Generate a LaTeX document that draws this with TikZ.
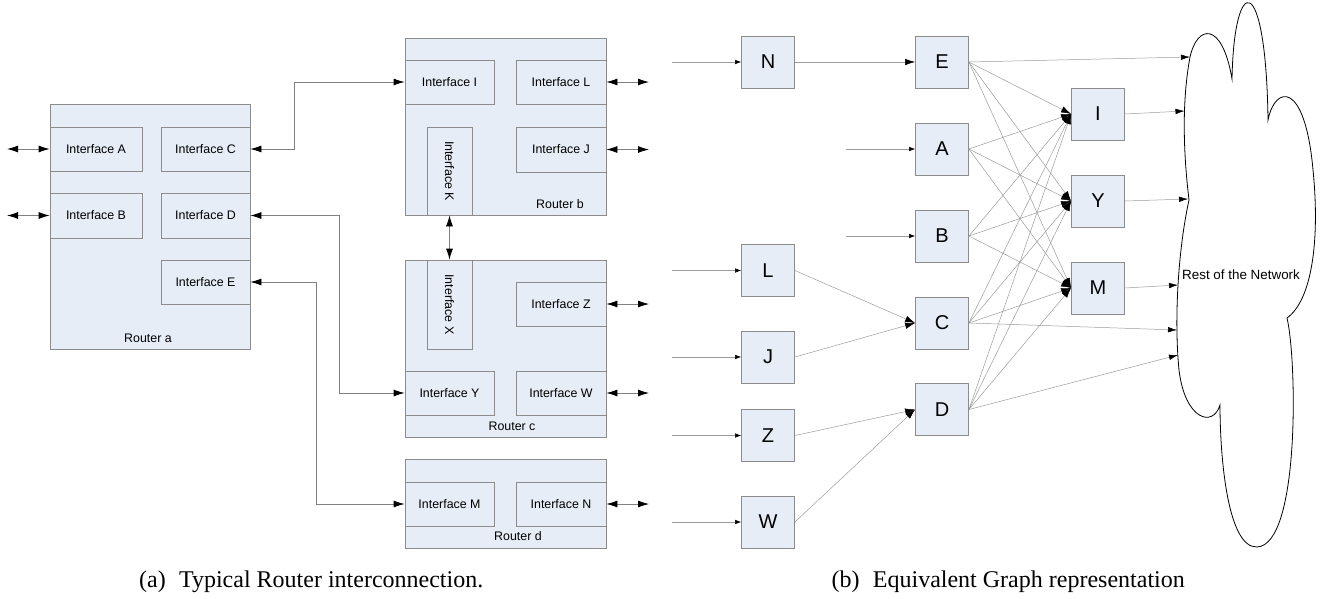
\documentclass[tikz,border=0pt]{standalone}
\usepackage{fontspec}
\setmainfont{Liberation Serif}
\newfontfamily\diagfont{Liberation Sans}
\usetikzlibrary{arrows.meta}

\definecolor{boxfill}{RGB}{231,237,247}
\definecolor{boxline}{RGB}{140,140,140}
\definecolor{wirecol}{RGB}{128,128,128}
\definecolor{edgecol}{RGB}{155,155,155}

\tikzset{
  router/.style={draw=boxline, fill=boxfill, line width=0.8pt, inner sep=0pt, rectangle},
  iface/.style={router, font=\diagfont\fontsize{12.4}{14}\selectfont},
  rlabel/.style={inner sep=0pt, font=\diagfont\fontsize{12.4}{14}\selectfont},
  gnode/.style={router, minimum width=53pt, minimum height=52pt,
                font=\diagfont\fontsize{20}{24}\selectfont},
  wire/.style={draw=wirecol, line width=0.8pt},
  biwire/.style={wire, {Latex[length=11pt,width=7pt,color=black]}-{Latex[length=11pt,width=7pt,color=black]}},
  gedge/.style={draw=edgecol, line width=0.5pt},
  inarrow/.style={gedge, -{Latex[length=6pt,width=4.5pt,color=black]}},
  midarrow/.style={gedge, -{Latex[length=10pt,width=6.5pt,color=black]}},
  cloudarrow/.style={gedge, -{Latex[length=9pt,width=5.5pt,color=black]}},
  caption/.style={inner sep=0pt, font=\fontsize{24}{28}\selectfont}
}

\begin{document}
\begin{tikzpicture}[x=1pt, y=-1pt]
\useasboundingbox (0,0) rectangle (1330,598);

% ---------------- routers ----------------
\node[router, minimum width=200pt, minimum height=245pt] (ra) at (150,226.5) {};
\node[router, minimum width=201pt, minimum height=177pt] (rb) at (505.5,126.5) {};
\node[router, minimum width=201pt, minimum height=177pt] (rc) at (505.5,348.5) {};
\node[router, minimum width=201pt, minimum height=89pt] (rd) at (505.5,503.5) {};

% interfaces of router a
\node[iface, minimum width=92pt, minimum height=44pt] (ifA) at (96,149) {Interface A};
\node[iface, minimum width=89pt, minimum height=44pt] (ifC) at (205.5,149) {Interface C};
\node[iface, minimum width=92pt, minimum height=45pt] (ifB) at (96,215.5) {Interface B};
\node[iface, minimum width=89pt, minimum height=45pt] (ifD) at (205.5,215.5) {Interface D};
\node[iface, minimum width=89pt, minimum height=44pt] (ifE) at (205.5,282) {Interface E};
\node[rlabel] (la) at (148,338) {Router a};

% interfaces of router b
\node[iface, minimum width=89pt, minimum height=44pt] (ifI) at (449.5,82) {Interface I};
\node[iface, minimum width=90pt, minimum height=44pt] (ifL) at (561,82) {Interface L};
\node[iface, minimum width=90pt, minimum height=45pt] (ifJ) at (561,149.5) {Interface J};
\node[iface, rotate=-90, minimum width=88pt, minimum height=45pt] (ifK) at (449.5,171) {Interface K};
\node[rlabel] (lb) at (560,204) {Router b};

% interfaces of router c
\node[iface, rotate=-90, minimum width=89pt, minimum height=45pt] (ifX) at (449.5,304.5) {Interface X};
\node[iface, minimum width=90pt, minimum height=44pt] (ifZ) at (561,304) {Interface Z};
\node[iface, minimum width=89pt, minimum height=44pt] (ifY) at (449.5,393) {Interface Y};
\node[iface, minimum width=90pt, minimum height=44pt] (ifW) at (561,393) {Interface W};
\node[rlabel] (lc) at (512,426) {Router c};

% interfaces of router d
\node[iface, minimum width=89pt, minimum height=44pt] (ifM) at (449.5,504) {Interface M};
\node[iface, minimum width=90pt, minimum height=44pt] (ifN) at (561,504) {Interface N};
\node[rlabel] (ld) at (518,536) {Router d};

% outside links
\coordinate (oA) at (7,149);
\coordinate (oB) at (7,215.5);
\coordinate (oL) at (649,82);
\coordinate (oJ) at (649,149.5);
\coordinate (oZ) at (649,304);
\coordinate (oW) at (649,393);
\coordinate (oN) at (649,504);
\draw[biwire] (oA) -- (ifA.west);
\draw[biwire] (oB) -- (ifB.west);
\draw[biwire] (ifL.east) -- (oL);
\draw[biwire] (ifJ.east) -- (oJ);
\draw[biwire] (ifZ.east) -- (oZ);
\draw[biwire] (ifW.east) -- (oW);
\draw[biwire] (ifN.east) -- (oN);

% links between routers
\draw[biwire] (ifC.east) -- ++(44,0) |- (ifI.west);
\draw[biwire] (ifD.east) -- ++(89,0) |- (ifY.west);
\draw[biwire] (ifE.east) -- ++(66,0) |- (ifM.west);
\draw[biwire] (ifK.east) -- (ifX.west);

% ---------------- graph ----------------
\node[gnode] (N) at (768,62) {N};
\node[gnode] (L) at (768,270.5) {L};
\node[gnode] (J) at (768,357) {J};
\node[gnode] (Z) at (768,435.5) {Z};
\node[gnode] (W) at (768,522) {W};

\node[gnode] (E) at (942,62) {E};
\node[gnode] (A) at (942,149) {A};
\node[gnode] (B) at (942,236) {B};
\node[gnode] (C) at (942,323) {C};
\node[gnode] (D) at (942,409.5) {D};

\node[gnode] (I) at (1098,114) {I};
\node[gnode] (Y) at (1098,201) {Y};
\node[gnode] (M) at (1098,288) {M};

% incoming edges
\coordinate (iN) at (672,62);
\coordinate (iL) at (672,270.5);
\coordinate (iJ) at (672,357);
\coordinate (iZ) at (672,435.5);
\coordinate (iW) at (672,522);
\coordinate (iA) at (846,149);
\coordinate (iB) at (846,236);
\foreach \n in {N,L,J,Z,W,A,B} \draw[inarrow] (i\n) -- (\n.west);

\draw[midarrow] (N.east) -- (E.west);
\draw[midarrow] (L.east) -- (C.west);
\draw[midarrow] (J.east) -- (C.west);
\draw[midarrow] (Z.east) -- (D.west);
\draw[midarrow] (W.east) -- (D.west);

\foreach \s in {E,A,B,C,D}
  \foreach \t in {I,Y,M}
    \draw[midarrow] (\s.east) -- (\t.west);

% cloud
\draw[line width=0.8pt]
  (1190,57) .. controls (1197,25) and (1222,20) .. (1232,79)
  .. controls (1234,-28) and (1266,-30) .. (1268,120)
  .. controls (1275,85) and (1305,80) .. (1313,170)
  .. controls (1320,240) and (1312,300) .. (1287,318)
  .. controls (1297,360) and (1300,545) .. (1257,547)
  .. controls (1228,548) and (1220,460) .. (1220,405)
  .. controls (1213,428) and (1185,420) .. (1179,370)
  .. controls (1174,320) and (1178,250) .. (1189,200)
  .. controls (1183,150) and (1182,100) .. (1190,57);
\node[inner sep=0pt, anchor=west, font=\diagfont\fontsize{13.4}{16}\selectfont] (net) at (1182,275) {Rest of the Network};

\coordinate (cE) at (1190,57);
\coordinate (cI) at (1184.5,111);
\coordinate (cY) at (1188,199);
\coordinate (cM) at (1178,285);
\coordinate (cC) at (1177,330);
\coordinate (cD) at (1178,355);
\draw[cloudarrow] (E.east) -- (cE);
\draw[cloudarrow] (I.east) -- (cI);
\draw[cloudarrow] (Y.east) -- (cY);
\draw[cloudarrow] (M.east) -- (cM);
\draw[cloudarrow] (C.east) -- (cC);
\draw[cloudarrow] (D.east) -- (cD);

% ---------------- captions ----------------
\node[caption, anchor=base west] (capa) at (139,587) {(a)\hspace{0.55em}Typical Router interconnection.};
\node[caption, anchor=base east] (capb) at (1185,587) {(b)\hspace{0.55em}Equivalent Graph representation};
\end{tikzpicture}
\end{document}
